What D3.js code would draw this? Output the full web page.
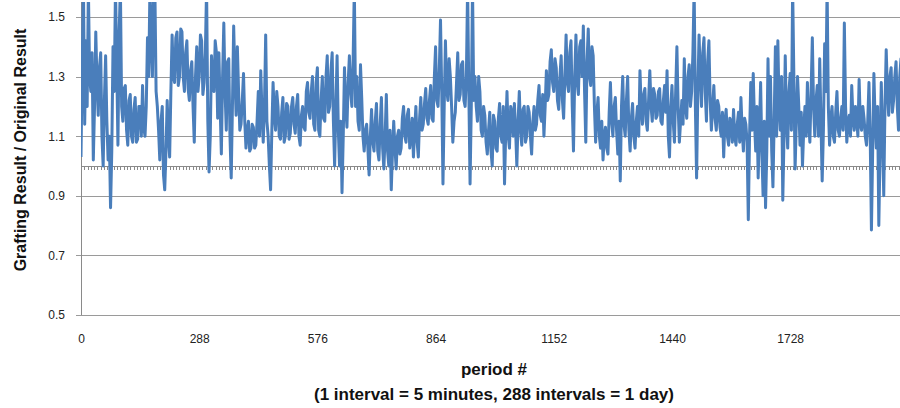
<!DOCTYPE html>
<html>
<head>
<meta charset="utf-8">
<script src="https://cdn.jsdelivr.net/npm/d3@7"></script>
<style>
  html, body { margin: 0; padding: 0; background: #fff; }
  svg { display: block; }
</style>
</head>
<body>
<svg id="chart" width="900" height="408"></svg>
<script>
// ---- data (one value every 3 periods) ----
const periodStep = 3;
const ratioValues = [
  1.03,1.35,1.6,1.14,1.42,1.2,1.6,1.3,1.25,1.38,1.02,1.2,1.45,1.28,1.17,1.33,1.38,1.1,1.0,1.22,
  1.37,1.15,1.02,1.1,0.86,1.05,1.4,1.25,1.6,1.35,1.07,1.45,1.6,1.2,1.15,1.26,1.27,1.12,1.07,1.22,
  1.24,1.1,1.08,1.19,1.23,1.08,1.09,1.2,1.2,1.1,1.27,1.13,1.1,1.2,1.43,1.3,1.6,1.42,1.3,1.6,
  1.6,1.25,1.2,1.12,1.02,1.15,1.2,0.97,0.92,1.05,1.22,1.1,1.03,1.25,1.44,1.3,1.28,1.43,1.45,1.27,
  1.3,1.46,1.45,1.3,1.25,1.38,1.42,1.26,1.22,1.32,1.35,1.2,1.08,1.3,1.4,1.25,1.3,1.44,1.42,1.24,
  1.28,1.38,1.6,1.15,0.98,1.1,1.37,1.28,1.25,1.42,1.38,1.16,
  1.38,1.2,1.04,1.3,1.48,1.25,1.12,1.35,1.36,1.1,0.96,1.2,1.47,1.3,1.17,1.4,1.25,1.12,1.14,1.22,
  1.31,1.15,1.06,1.12,1.15,1.05,1.06,1.14,1.13,1.06,1.07,1.15,1.25,1.1,1.32,1.18,1.08,1.2,1.44,1.15,
  1.1,1.0,0.92,1.12,1.28,1.17,1.12,1.25,1.2,1.1,1.09,1.18,1.23,1.08,1.1,1.21,1.2,1.09,1.11,1.2,
  1.23,1.14,1.11,1.2,1.24,1.1,1.07,1.17,1.2,1.13,1.12,1.25,1.28,1.18,1.16,1.25,1.3,1.14,1.12,1.28,
  1.33,1.12,1.1,1.22,1.3,1.16,1.15,1.3,1.37,1.18,1.2,1.32,1.38,1.15,1.0,1.2,1.37,1.12,1.0,1.15,
  0.91,1.1,1.33,1.2,1.13,1.28,1.37,1.25,1.2,1.35,
  1.6,1.2,1.3,1.15,1.12,1.34,1.23,1.1,1.05,1.12,1.14,1.06,0.97,1.1,1.19,1.08,1.05,1.15,1.21,1.05,
  1.02,1.14,1.23,1.06,0.99,1.1,1.24,1.05,1.0,1.12,0.92,1.05,1.15,1.06,0.99,1.1,1.12,1.04,1.06,1.16,
  1.2,1.1,1.08,1.17,1.19,1.06,1.1,1.16,1.03,1.12,1.2,1.08,1.03,1.16,1.23,1.12,1.14,1.21,1.26,1.16,
  1.14,1.22,1.27,1.16,1.15,1.3,1.4,1.22,1.2,1.32,1.49,1.25,0.94,1.2,1.42,1.26,1.22,1.36,1.3,1.2,
  1.08,1.15,1.18,1.28,1.38,1.22,1.24,1.34,1.35,1.22,1.2,1.3,1.6,1.25,0.94,1.2,1.6,1.22,1.3,1.2,
  1.15,1.3,1.25,1.12,1.1,1.2,1.17,1.08,1.04,1.12,1.18,1.05,
  1.0,1.17,1.15,1.06,1.05,1.16,1.21,1.1,1.08,1.2,0.94,1.12,1.25,1.1,1.06,1.2,1.18,1.1,1.21,1.12,
  1.0,1.15,1.25,1.12,1.07,1.19,1.2,1.08,1.1,1.2,1.18,1.1,1.04,1.15,1.2,1.12,1.14,1.22,1.27,1.17,
  1.15,1.24,1.1,1.2,1.32,1.22,1.24,1.35,1.39,1.28,1.25,1.36,1.33,1.22,1.19,1.3,1.37,1.22,1.16,1.3,
  1.44,1.28,1.25,1.38,1.42,1.2,1.05,1.3,1.44,1.28,1.24,1.4,1.42,1.3,1.47,1.25,1.08,1.35,1.46,1.3,
  1.27,1.4,1.37,1.2,1.08,1.18,1.23,1.1,1.06,1.15,1.02,1.1,1.13,1.06,1.04,1.18,1.28,1.15,1.1,1.2,
  1.23,1.12,1.04,1.15,0.95,1.2,1.3,1.14,1.1,1.22,1.3,1.12,
  1.05,1.16,1.21,1.1,1.06,1.15,1.2,1.1,1.32,1.2,1.14,1.24,1.26,1.15,1.12,1.22,1.32,1.2,1.15,1.26,
  1.24,1.16,1.17,1.25,1.26,1.15,1.14,1.22,1.27,1.18,1.32,1.1,1.03,1.2,1.27,1.15,1.08,1.25,1.4,1.2,
  1.08,1.15,1.22,1.14,1.36,1.2,1.16,1.3,1.34,1.2,1.25,1.38,1.6,1.2,0.96,1.25,1.44,1.3,1.2,1.38,
  1.43,1.25,1.15,1.35,1.42,1.22,1.12,1.2,1.27,1.16,1.12,1.22,1.2,1.13,1.1,1.18,1.03,1.15,1.19,1.1,
  1.07,1.16,1.15,1.08,1.19,1.1,1.07,1.14,1.18,1.08,1.23,1.12,1.05,1.16,1.14,1.08,0.82,1.1,1.28,1.12,
  1.31,1.15,1.05,1.2,0.96,1.12,1.28,1.05,0.9,1.15,0.86,1.05,
  1.36,1.1,1.3,1.05,0.93,1.15,1.4,1.1,1.42,1.2,1.12,1.3,0.885,1.1,1.37,1.15,1.06,1.25,1.31,1.12,
  1.6,1.3,0.99,1.15,1.3,1.2,1.07,1.18,1.0,1.12,1.2,1.1,1.28,1.15,1.08,1.25,1.43,1.2,1.1,1.22,
  1.27,1.1,1.36,1.15,0.95,1.12,1.41,1.25,1.6,1.2,1.07,1.16,1.2,1.1,1.08,1.18,1.25,1.12,1.1,1.16,
  1.2,1.12,1.48,1.2,1.08,1.15,1.17,1.1,1.27,1.16,1.12,1.2,1.16,1.1,1.29,1.14,1.12,1.2,1.16,1.1,
  1.07,1.15,1.28,1.1,0.785,1.05,1.31,1.15,1.06,1.2,0.8,1.05,1.28,1.1,0.9,1.2,1.39,1.25,1.17,1.3,
  1.33,1.18,1.22,1.3,1.35,1.2,1.12,1.3,1.36,1.22,1.2,1.3,1.34
];
const yTickValues = [0.5, 0.7, 0.9, 1.1, 1.3, 1.5];
const xTickValues = [0, 288, 576, 864, 1152, 1440, 1728];
const yTitle = "Grafting Result / Original Result";
const xTitleLines = ["period #", "(1 interval = 5 minutes, 288 intervals = 1 day)"];

const series = ratioValues.map((v, i) => ({ period: i * periodStep, value: v }));

// ---- layout ----
const left = 81, right = 900, plotTop = 2, plotBottom = 315;
const svg = d3.select("#chart");

const x = d3.scaleLinear().domain([0, 2016]).range([left, left + 2016 * 0.4104]);
const y = d3.scaleLinear().domain([0.5, 1.5]).range([315, 17]);

const font = "'Liberation Sans', Arial, sans-serif";

// gridlines + y axis labels
const yAxis = d3.axisLeft(y).tickValues(yTickValues).tickFormat(d3.format(".1f"))
  .tickSizeInner(-(right - left)).tickSizeOuter(0).tickPadding(10);
const gy = svg.append("g").attr("transform", `translate(${left},0)`).call(yAxis);
gy.select(".domain").remove();
gy.selectAll(".tick line").attr("x1", -5).attr("x2", right - left).attr("stroke", "#9a9a9a").attr("stroke-width", 1)
  .attr("shape-rendering", "crispEdges");
gy.selectAll(".tick text").attr("font-family", font).attr("font-size", 12).attr("fill", "#222").attr("x", -16);

// left axis line
svg.append("line").attr("x1", left).attr("x2", left).attr("y1", plotTop).attr("y2", y(0.5))
  .attr("stroke", "#8a8a8a").attr("stroke-width", 1).attr("shape-rendering", "crispEdges");

// category axis crossing at 1.0 with minor ticks every 8 periods
const catAxis = d3.axisBottom(x).tickValues(d3.range(0, 2017, 8)).tickSize(4).tickSizeOuter(0).tickFormat("");
const gc = svg.append("g").attr("transform", `translate(0,${Math.round(y(1.0))})`).call(catAxis);
gc.select(".domain").attr("stroke", "#8a8a8a").attr("shape-rendering", "crispEdges");
gc.selectAll(".tick line").attr("stroke", "#8a8a8a").attr("shape-rendering", "crispEdges");

// x labels at the bottom
const xAxis = d3.axisBottom(x).tickValues(xTickValues).tickFormat(d3.format("d")).tickSize(0).tickPadding(0);
const gx = svg.append("g").attr("transform", `translate(0,${plotBottom})`).call(xAxis);
gx.select(".domain").remove();
gx.selectAll(".tick text").attr("font-family", font).attr("font-size", 12).attr("fill", "#222")
  .attr("dy", null).attr("y", 28);

// data line
svg.append("clipPath").attr("id", "plotclip").append("rect")
  .attr("x", left).attr("y", plotTop).attr("width", right - left).attr("height", plotBottom - plotTop);
const line = d3.line().x(d => x(d.period)).y(d => y(d.value));
svg.append("path").datum(series).attr("clip-path", "url(#plotclip)")
  .attr("d", line).attr("fill", "none").attr("stroke", "#4A7EBB").attr("stroke-width", 3)
  .attr("stroke-linejoin", "round");

// titles
svg.append("text").attr("transform", `translate(26,150) rotate(-90)`).attr("text-anchor", "middle")
  .attr("font-family", font).attr("font-weight", "bold").attr("font-size", 16).attr("fill", "#111").text(yTitle);
svg.append("text").attr("x", 494).attr("y", 375).attr("text-anchor", "middle")
  .attr("font-family", font).attr("font-weight", "bold").attr("font-size", 17).attr("fill", "#111").text(xTitleLines[0]);
svg.append("text").attr("x", 494).attr("y", 400).attr("text-anchor", "middle")
  .attr("font-family", font).attr("font-weight", "bold").attr("font-size", 17).attr("fill", "#111").text(xTitleLines[1]);
</script>
</body>
</html>
